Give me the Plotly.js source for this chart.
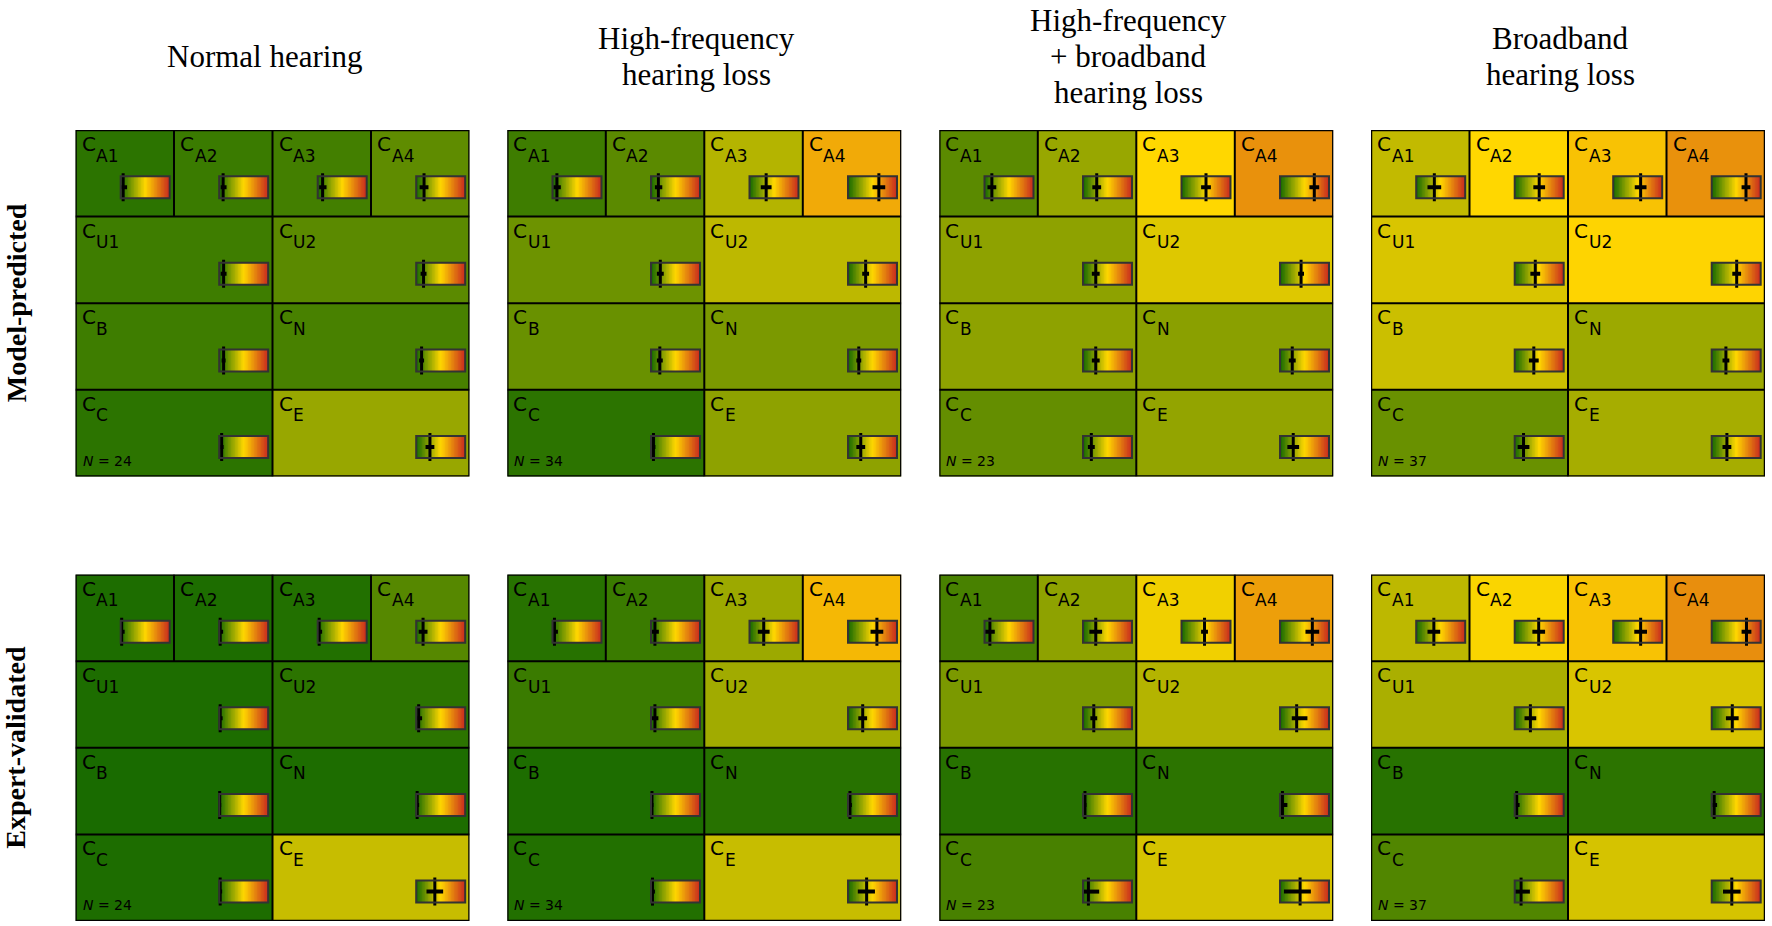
<!DOCTYPE html>
<html><head><meta charset="utf-8">
<script src="https://cdn.plot.ly/plotly-3.0.1.min.js"></script>
<style>body{margin:0;background:#fff}#chart{width:1772px;height:926px}</style>
</head><body><div id="chart"></div>
<script>
// ---------------- data ----------------
const cellLabels = ['A1','A2','A3','A4','U1','U2','B','N','C','E'];
const groupTitles = [['Normal hearing'],['High-frequency','hearing loss'],['High-frequency','+ broadband','hearing loss'],['Broadband','hearing loss']];
const rowTitles = ['Model-predicted','Expert-validated'];
const groupN = [24, 34, 23, 37];

// mean score per cell (0 = green ... 1 = red), lower / upper error extents
const modelNH       = [0.05,0.08,0.10,0.16,0.09,0.15,0.09,0.11,0.05,0.28];
const modelNHMinus  = [0.05,0.05,0.07,0.09,0.06,0.06,0.04,0.05,0.04,0.09];
const modelNHPlus   = [0.08,0.07,0.08,0.09,0.06,0.06,0.04,0.05,0.04,0.09];
const modelHF       = [0.09,0.15,0.34,0.63,0.19,0.36,0.18,0.22,0.05,0.26];
const modelHFMinus  = [0.07,0.07,0.11,0.13,0.07,0.07,0.06,0.05,0.04,0.09];
const modelHFPlus   = [0.08,0.08,0.11,0.13,0.07,0.07,0.06,0.05,0.04,0.09];
const modelHFB      = [0.15,0.28,0.50,0.70,0.26,0.43,0.26,0.25,0.17,0.27];
const modelHFBMinus = [0.09,0.09,0.10,0.10,0.08,0.06,0.08,0.07,0.07,0.12];
const modelHFBPlus  = [0.09,0.09,0.10,0.10,0.08,0.06,0.08,0.07,0.07,0.12];
const modelBB       = [0.37,0.50,0.56,0.70,0.42,0.51,0.39,0.29,0.18,0.31];
const modelBBMinus  = [0.14,0.12,0.12,0.09,0.10,0.09,0.10,0.07,0.12,0.09];
const modelBBPlus   = [0.14,0.12,0.12,0.09,0.10,0.09,0.10,0.07,0.12,0.09];

const expertNH       = [0.02,0.02,0.03,0.14,0.02,0.05,0.01,0.02,0.02,0.38];
const expertNHMinus  = [0.02,0.02,0.03,0.09,0.02,0.05,0.01,0.02,0.02,0.17];
const expertNHPlus   = [0.06,0.06,0.06,0.09,0.05,0.07,0.03,0.04,0.04,0.17];
const expertHF       = [0.04,0.08,0.29,0.59,0.08,0.30,0.02,0.04,0.03,0.38];
const expertHFMinus  = [0.04,0.07,0.12,0.13,0.07,0.09,0.02,0.04,0.03,0.18];
const expertHFPlus   = [0.07,0.08,0.12,0.13,0.07,0.09,0.03,0.04,0.05,0.17];
const expertHFB      = [0.11,0.26,0.47,0.66,0.22,0.34,0.04,0.05,0.11,0.41];
const expertHFBMinus = [0.10,0.13,0.07,0.14,0.07,0.10,0.04,0.05,0.10,0.33];
const expertHFBPlus  = [0.10,0.13,0.07,0.14,0.07,0.22,0.03,0.10,0.22,0.22];
const expertBB       = [0.36,0.49,0.56,0.71,0.32,0.42,0.04,0.05,0.13,0.41];
const expertBBMinus  = [0.13,0.13,0.13,0.10,0.12,0.13,0.04,0.05,0.13,0.18];
const expertBBPlus   = [0.13,0.13,0.13,0.10,0.12,0.13,0.06,0.06,0.18,0.18];

const series = [
  [modelNH, modelNHMinus, modelNHPlus], [modelHF, modelHFMinus, modelHFPlus],
  [modelHFB, modelHFBMinus, modelHFBPlus], [modelBB, modelBBMinus, modelBBPlus],
  [expertNH, expertNHMinus, expertNHPlus], [expertHF, expertHFMinus, expertHFPlus],
  [expertHFB, expertHFBMinus, expertHFBPlus], [expertBB, expertBBMinus, expertBBPlus]
];

// ---------------- styling / geometry ----------------
const colorscale = [[0,'rgb(20,105,0)'],[0.5,'rgb(255,215,0)'],[1,'rgb(200,40,30)']];
const W = 1772, H = 926;
const panelX = [75.5, 507.3, 939.3, 1371], panelW = 394;
const panelY = [130, 574.5], panelH = 346.5;
const cellPxW = panelW / 4, cellPxH = panelH / 4;
const gW = 49 / cellPxW, gH = 22 / cellPxH, gRight = 4.3 / cellPxW, gBottom = 18.4 / cellPxH;
const ramp = Array.from({length: 64}, (_, i) => (i + 0.5) / 64);
const labelFont = 'DejaVu Sans, sans-serif';
const serifFont = 'Liberation Serif, DejaVu Serif, serif';
const titleCenterY = 56.5, titleLineGap = 36.5;

function cellRect(i) {
  if (i < 4) return [i, i + 1, 0, 1];
  const j = i - 4, r = 1 + Math.floor(j / 2), c = j % 2;
  return [c * 2, c * 2 + 2, r, r + 1];
}

const traces = [], shapes = [], annotations = [];
const layout = {
  width: W, height: H, margin: {l: 0, r: 0, t: 0, b: 0},
  paper_bgcolor: '#fff', plot_bgcolor: 'rgba(0,0,0,0)', showlegend: false,
  shapes, annotations
};

for (let r = 0; r < 2; r++) {
  for (let c = 0; c < 4; c++) {
    const k = r * 4 + c + 1;
    const xa = k === 1 ? 'x' : 'x' + k, ya = k === 1 ? 'y' : 'y' + k;
    layout['xaxis' + (k === 1 ? '' : k)] = {domain: [panelX[c] / W, (panelX[c] + panelW) / W], range: [0, 4],
      visible: false, anchor: ya, fixedrange: true};
    layout['yaxis' + (k === 1 ? '' : k)] = {domain: [1 - (panelY[r] + panelH) / H, 1 - panelY[r] / H], range: [4, 0],
      visible: false, anchor: xa, fixedrange: true};
    const [m, lo, hi] = series[k - 1];
    const z = [[m[0], m[1], m[2], m[3]], [m[4], m[4], m[5], m[5]], [m[6], m[6], m[7], m[7]], [m[8], m[8], m[9], m[9]]];
    traces.push({type: 'heatmap', x: [0.5, 1.5, 2.5, 3.5], y: [0.5, 1.5, 2.5, 3.5], z, zmin: 0, zmax: 1,
      colorscale, showscale: false, xaxis: xa, yaxis: ya, hoverinfo: 'skip'});

    const mx = [], my = [], ePlus = [], eMinus = [];
    for (let i = 0; i < 10; i++) {
      const [x0, x1, y0, y1] = cellRect(i);
      const gx1 = x1 - gRight, gx0 = gx1 - gW, gy1 = y1 - gBottom, gy0 = gy1 - gH;
      const edges = Array.from({length: 65}, (_, t) => gx0 + gW * t / 64);
      traces.push({type: 'heatmap', x: edges, y: [gy0, gy1], z: [ramp], zmin: 0, zmax: 1, colorscale,
        showscale: false, xaxis: xa, yaxis: ya, hoverinfo: 'skip'});
      shapes.push({type: 'rect', xref: xa, yref: ya, x0: gx0, x1: gx1, y0: gy0, y1: gy1,
        line: {color: '#333', width: 2}});
      mx.push(gx0 + m[i] * gW); my.push((gy0 + gy1) / 2);
      ePlus.push(Math.min(hi[i], 1 - m[i]) * gW); eMinus.push(Math.min(lo[i], m[i]) * gW);
      annotations.push({xref: xa, yref: ya, x: x0, y: y0, xanchor: 'left', yanchor: 'top', showarrow: false,
        text: 'C', font: {family: labelFont, size: 20, color: '#000'}, xshift: 4, yshift: 0});
      annotations.push({xref: xa, yref: ya, x: x0, y: y0, xanchor: 'left', yanchor: 'top', showarrow: false,
        text: cellLabels[i], font: {family: labelFont, size: 17, color: '#000'}, xshift: 18.5, yshift: -13.5});
    }
    traces.push({type: 'scatter', mode: 'markers', x: mx, y: my, xaxis: xa, yaxis: ya, hoverinfo: 'skip',
      marker: {symbol: 'line-ns', size: 20, color: '#000', line: {width: 3, color: '#000'}},
      error_x: {type: 'data', symmetric: false, array: ePlus, arrayminus: eMinus, thickness: 4, width: 0, color: '#000'}});

    // cell borders
    const L = {color: '#000', width: 2};
    shapes.push({type: 'rect', xref: xa, yref: ya, x0: 0, x1: 4, y0: 0, y1: 4, line: {color: '#000', width: 2.5}});
    [1, 2, 3].forEach(y => shapes.push({type: 'line', xref: xa, yref: ya, x0: 0, x1: 4, y0: y, y1: y, line: L}));
    [1, 3].forEach(x => shapes.push({type: 'line', xref: xa, yref: ya, x0: x, x1: x, y0: 0, y1: 1, line: L}));
    shapes.push({type: 'line', xref: xa, yref: ya, x0: 2, x1: 2, y0: 0, y1: 4, line: L});

    annotations.push({xref: xa, yref: ya, x: 0, y: 4, xanchor: 'left', yanchor: 'bottom', showarrow: false,
      text: '<i>N</i> = ' + groupN[c], font: {family: labelFont, size: 14, color: '#000'}, xshift: 5, yshift: 6});
  }
}

groupTitles.forEach((lines, c) => lines.forEach((t, li) => annotations.push({xref: 'paper', yref: 'paper',
  x: (panelX[c] + panelW / 2) / W,
  y: 1 - (titleCenterY + (li - (lines.length - 1) / 2) * titleLineGap) / H,
  xanchor: 'center', yanchor: 'middle', showarrow: false, text: t, xshift: -8,
  font: {family: serifFont, size: 31, color: '#000'}})));
rowTitles.forEach((t, r) => annotations.push({xref: 'paper', yref: 'paper', x: 16 / W,
  y: 1 - (panelY[r] + panelH / 2) / H, xanchor: 'center', yanchor: 'middle', showarrow: false, textangle: -90,
  text: '<b>' + t + '</b>', font: {family: serifFont, size: 28, color: '#000'}}));

Plotly.newPlot('chart', traces, layout, {staticPlot: true});
</script></body></html>
